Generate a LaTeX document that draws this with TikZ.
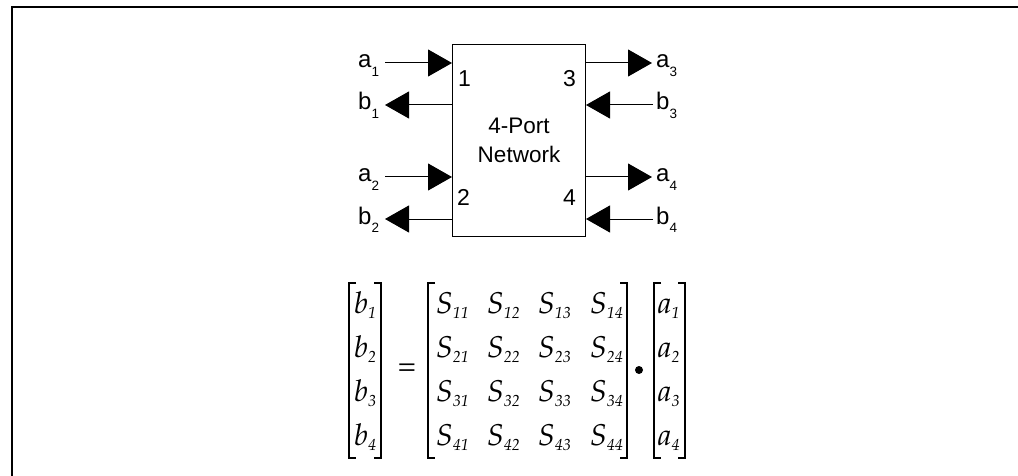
\documentclass[tikz,border=0pt]{standalone}
\usepackage[T1]{fontenc}
\usepackage{fontspec}
\setmainfont{Liberation Sans}
\usetikzlibrary{arrows.meta}

% Palatino italic for the matrix equation
\newcommand\palit{\fontencoding{T1}\fontfamily{ppl}\fontseries{m}\fontshape{it}\selectfont}
\newcommand\palup{\fontencoding{T1}\fontfamily{ppl}\fontseries{m}\fontshape{n}\selectfont}
% wave label with a lowered port index
\newcommand\psub[2]{#1\raisebox{-8.5pt}{\fontsize{13.5}{13.5}\selectfont #2}}
% matrix entry: italic symbol with lowered italic index
\newcommand\ment[2]{{\palit\fontsize{30}{30}\selectfont #1}\raisebox{-5pt}{\palit\fontsize{16}{16}\selectfont #2}}

\begin{document}
\begin{tikzpicture}[x=1pt,y=-1pt,
  lab/.style={anchor=base west,inner sep=0pt,font=\fontsize{24}{24}\selectfont},
  num/.style={anchor=base west,inner sep=0pt,font=\fontsize{23}{23}\selectfont},
  inarrow/.style={line width=1pt,-{Triangle[length=24pt,width=27pt]}},
  brk/.style={line width=1.3pt},
  ent/.style={anchor=base west,inner sep=0pt}]
\useasboundingbox (0,0) rectangle (1018,476);

% outer frame (left and top edges)
\draw[line width=2pt] (12,480) -- (12,7) -- (1022,7);

% the network box
\node[draw,line width=1pt,minimum width=133pt,minimum height=191pt,inner sep=0pt,
      align=center,font=\fontsize{22.5}{29}\selectfont] (net) at (519,140.5) {4-Port\\Network};

% port numbers
\node[num] (p1) at (458,87) {1};
\node[num] (p3) at (563,87) {3};
\node[num] (p2) at (457,206) {2};
\node[num] (p4) at (563,206) {4};

% wave labels
\node[lab] (la1) at (358,68) {\psub{a}{1}};
\node[lab] (lb1) at (358,110) {\psub{b}{1}};
\node[lab] (la2) at (358,182) {\psub{a}{2}};
\node[lab] (lb2) at (358,224) {\psub{b}{2}};
\node[lab] (la3) at (656,68) {\psub{a}{3}};
\node[lab] (lb3) at (656,110) {\psub{b}{3}};
\node[lab] (la4) at (656,182) {\psub{a}{4}};
\node[lab] (lb4) at (656,224) {\psub{b}{4}};

% arrow ends
\coordinate (a1s) at (385,63);
\coordinate (b1e) at (385,105);
\coordinate (a2s) at (385,177);
\coordinate (b2e) at (385,219);
\coordinate (a3e) at (652,63);
\coordinate (b3s) at (653,105);
\coordinate (a4e) at (652,177);
\coordinate (b4s) at (653,219);

% incident and reflected waves
\draw[inarrow] (a1s) -- (a1s -| net.west);
\draw[inarrow] (b1e -| net.west) -- (b1e);
\draw[inarrow] (a2s) -- (a2s -| net.west);
\draw[inarrow] (b2e -| net.west) -- (b2e);
\draw[inarrow] (a3e -| net.east) -- (a3e);
\draw[inarrow] (b3s) -- (b3s -| net.east);
\draw[inarrow] (a4e -| net.east) -- (a4e);
\draw[inarrow] (b4s) -- (b4s -| net.east);

% brackets
\draw[brk] (356,283) -- (349,283) -- (349,458) -- (356,458);
\draw[brk] (374,283) -- (381,283) -- (381,458) -- (374,458);
\draw[brk] (435,283) -- (428,283) -- (428,458) -- (435,458);
\draw[brk] (620,283) -- (627,283) -- (627,458) -- (620,458);
\draw[brk] (661,283) -- (654,283) -- (654,458) -- (661,458);
\draw[brk] (678,283) -- (685,283) -- (685,458) -- (678,458);

% reflected wave vector
\node[ent] (vb1) at (354,313) {\ment{b}{1}};
\node[ent] (vb2) at (354,357) {\ment{b}{2}};
\node[ent] (vb3) at (354,401) {\ment{b}{3}};
\node[ent] (vb4) at (354,445) {\ment{b}{4}};

\node (eq) at (407,370) {\palup\fontsize{30}{30}\selectfont =};

% scattering matrix
\foreach \r/\y in {1/313,2/357,3/401,4/445}{
  \foreach \c/\x in {1/436,2/487,3/538,4/590}{
    \node[ent] (s\r\c) at (\x,\y) {\ment{S}{\r\c}};
  }
}

\node[circle,fill,inner sep=0pt,minimum size=8pt] (dot) at (639,370) {};

% incident wave vector
\node[ent] (va1) at (658,313) {\ment{a}{1}};
\node[ent] (va2) at (658,357) {\ment{a}{2}};
\node[ent] (va3) at (658,401) {\ment{a}{3}};
\node[ent] (va4) at (658,445) {\ment{a}{4}};
\end{tikzpicture}
\end{document}
